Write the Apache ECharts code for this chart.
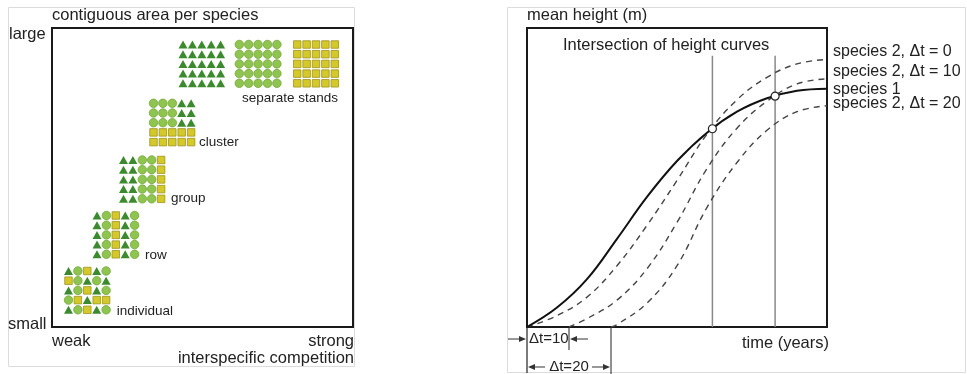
<!DOCTYPE html>
<html>
<head>
<meta charset="utf-8">
<script src="https://cdn.jsdelivr.net/npm/echarts@6/dist/echarts.min.js"></script>
<style>
html, body { margin: 0; padding: 0; background: #fff; }
#chartDom { width: 967px; height: 374px; }
</style>
</head>
<body>
<div id="chartDom"></div>
<script>
// left panel: mixing patterns, T = triangle, C = circle, S = square
const patIndividual = ['TCSTC', 'SCTCT', 'TCSTC', 'CSTSS', 'TCSTC'];
const patRow = ['TCSTC', 'TCSTC', 'TCSTC', 'TCSTC', 'TCSTC'];
const patGroup = ['TTCCS', 'TTCCS', 'TTCCS', 'TTCCS', 'TTCCS'];
const patCluster = ['CCCTT', 'CCCTT', 'CCCTT', 'SSSSS', 'SSSSS'];
const patStandT = ['TTTTT', 'TTTTT', 'TTTTT', 'TTTTT', 'TTTTT'];
const patStandC = ['CCCCC', 'CCCCC', 'CCCCC', 'CCCCC', 'CCCCC'];
const patStandS = ['SSSSS', 'SSSSS', 'SSSSS', 'SSSSS', 'SSSSS'];
const standNames = ['individual', 'row', 'group', 'cluster', 'separate stands'];

// right panel: mean height over time
const tSp1 = [0, 10, 20, 30, 40, 50, 60, 70, 80, 90, 100];
const hSp1 = [0, 6.5, 16, 29.5, 43.5, 55.5, 65, 72, 76.5, 79, 79.7];
const tDt0 = [0, 10, 20, 30, 40, 50, 60, 70, 80, 90, 100];
const hDt0 = [0, 3.8, 10, 20.5, 34, 49, 64.5, 76, 83.5, 88, 89.5];
const tDt10 = [14, 20, 30, 40, 50, 60, 70, 80, 90, 100];
const hDt10 = [0, 2.8, 9, 19.5, 35, 53, 66.5, 75.5, 81.3, 83];
const tDt20 = [28, 30, 40, 50, 60, 70, 80, 90, 100];
const hDt20 = [0, 0.8, 8, 20.5, 40, 55, 65.8, 72, 74];
const crossT = [61.8, 82.7];
const crossH = [66.3, 77.2];
const crossTop = 90.7;
const shiftT = [14, 28];
const curveLabels = ['species 2, Δt = 0', 'species 2, Δt = 10', 'species 1', 'species 2, Δt = 20'];

const FONT = '"Liberation Sans", Arial, sans-serif';
const TXT = '#222';

// where each 5x5 block sits inside the left box (px from box top-left)
const blocks = [
  { pat: patIndividual, x: 16.5, y: 243 },
  { pat: patRow, x: 45, y: 187.5 },
  { pat: patGroup, x: 71.5, y: 132 },
  { pat: patCluster, x: 101.5, y: 75.3 },
  { pat: patStandT, x: 131, y: 16.5 },
  { pat: patStandC, x: 187.3, y: 16.5 },
  { pat: patStandS, x: 245.2, y: 16.5 }
];
const standLabelPos = [[64.7, 283], [93, 227], [119, 170], [147, 114], [190, 70]];
const STEPX = 9.4, STEPY = 9.7;

const pts = { T: [], C: [], S: [] };
blocks.forEach(b => {
  b.pat.forEach((row, r) => {
    row.split('').forEach((ch, c) => {
      pts[ch].push([b.x + c * STEPX, b.y + r * STEPY]);
    });
  });
});

const zip = (a, b) => a.map((v, i) => [v, b[i]]);
const hideAxis = { show: true, axisLine: { show: false }, axisTick: { show: false }, axisLabel: { show: false }, splitLine: { show: false } };

const chart = echarts.init(document.getElementById('chartDom'));

const dashStyle = { color: '#444', width: 1.4, type: [6, 5] };
const curve = (name, data, style) => ({
  name: name, type: 'line', xAxisIndex: 1, yAxisIndex: 1, data: data,
  smooth: 0.4, showSymbol: false, symbol: 'none',
  lineStyle: style, z: 3
});

chart.setOption({
  animation: false,
  grid: [
    { left: 52, top: 28, width: 301, height: 299, show: true, borderColor: '#1a1a1a', borderWidth: 2, containLabel: false, outerBoundsMode: 'none' },
    { left: 527, top: 28, width: 300, height: 299, show: true, borderColor: '#1a1a1a', borderWidth: 2, containLabel: false, outerBoundsMode: 'none' }
  ],
  xAxis: [
    Object.assign({ type: 'value', gridIndex: 0, min: 0, max: 301 }, hideAxis),
    Object.assign({ type: 'value', gridIndex: 1, min: 0, max: 100 }, hideAxis)
  ],
  yAxis: [
    Object.assign({ type: 'value', gridIndex: 0, min: 0, max: 299, inverse: true }, hideAxis),
    Object.assign({ type: 'value', gridIndex: 1, min: 0, max: 100 }, hideAxis)
  ],
  series: [
    { type: 'scatter', xAxisIndex: 0, yAxisIndex: 0, data: pts.T, symbol: 'triangle', symbolSize: [9, 8],
      itemStyle: { color: '#3c8a2e', opacity: 1 } },
    { type: 'scatter', xAxisIndex: 0, yAxisIndex: 0, data: pts.C, symbol: 'circle', symbolSize: 8.5,
      itemStyle: { color: '#8fc44f', borderColor: '#72a83c', borderWidth: 0.8, opacity: 1 } },
    { type: 'scatter', xAxisIndex: 0, yAxisIndex: 0, data: pts.S, symbol: 'rect', symbolSize: 7.5,
      itemStyle: { color: '#d5c92a', borderColor: '#9c931e', borderWidth: 0.8, opacity: 1 } },
    curve(curveLabels[1], zip(tDt10, hDt10), dashStyle),
    curve(curveLabels[3], zip(tDt20, hDt20), dashStyle),
    curve(curveLabels[0], zip(tDt0, hDt0), dashStyle),
    curve(curveLabels[2], zip(tSp1, hSp1), { color: '#111', width: 2 }),
    { type: 'line', xAxisIndex: 1, yAxisIndex: 1, data: [[crossT[0], 0], [crossT[0], crossTop]], symbol: 'none',
      lineStyle: { color: '#888', width: 1.5 }, z: 2 },
    { type: 'line', xAxisIndex: 1, yAxisIndex: 1, data: [[crossT[1], 0], [crossT[1], crossTop]], symbol: 'none',
      lineStyle: { color: '#888', width: 1.5 }, z: 2 },
    { type: 'scatter', xAxisIndex: 1, yAxisIndex: 1, data: zip(crossT, crossH), symbol: 'circle', symbolSize: 8,
      itemStyle: { color: '#fff', borderColor: '#222', borderWidth: 1.2, opacity: 1 }, z: 5 }
  ]
});

// annotations
const P = (g, v) => chart.convertToPixel({ gridIndex: g }, v);
const txt = (s, x, y, size, align) => ({
  type: 'text', x: x, y: y, silent: true,
  style: { text: s, fill: TXT, font: size + 'px ' + FONT, textAlign: align || 'left', textVerticalAlign: 'middle' }
});
const seg = (x1, y1, x2, y2, color, w) => ({
  type: 'line', silent: true, shape: { x1: x1, y1: y1, x2: x2, y2: y2 },
  style: { stroke: color || '#333', lineWidth: w || 1 }
});
const arrow = (x1, y, x2) => {
  const d = x2 > x1 ? 1 : -1;
  return [
    seg(x1, y, x2 - d * 5, y, '#333', 1),
    { type: 'polygon', silent: true, shape: { points: [[x2, y], [x2 - d * 7, y - 3], [x2 - d * 7, y + 3]] }, style: { fill: '#333' } }
  ];
};

const g = [];
// panel frames
g.push({ type: 'rect', silent: true, shape: { x: 8.5, y: 7.5, width: 346, height: 359 }, style: { fill: 'none', stroke: '#dcdcdc', lineWidth: 1 } });
g.push({ type: 'rect', silent: true, shape: { x: 507.5, y: 7.5, width: 458, height: 365 }, style: { fill: 'none', stroke: '#dcdcdc', lineWidth: 1 } });

// left panel texts
g.push(txt('contiguous area per species', 52, 15, 16.5));
g.push(txt('large', 9, 34, 16.5));
g.push(txt('small', 8, 324, 16.5));
g.push(txt('weak', 52, 341, 16.5));
g.push(txt('strong', 354, 341, 16.5, 'right'));
g.push(txt('interspecific competition', 354, 358, 16.5, 'right'));
standNames.forEach((s, i) => {
  const p = P(0, standLabelPos[i]);
  g.push(txt(s, p[0], p[1], 13.5));
});

// right panel texts
g.push(txt('mean height (m)', 527, 15, 16.5));
g.push(txt('Intersection of height curves', 563, 45, 16.5));
g.push(txt('time (years)', 829, 343, 16.5, 'right'));
[52, 72, 90, 104].forEach((y, i) => g.push(txt(curveLabels[i], 833, y, 16)));

// Δt markers below the time axis
const o = P(1, [0, 0]);
const a10 = P(1, [shiftT[0], 0]);
const a20 = P(1, [shiftT[1], 0]);
g.push(seg(o[0], o[1], o[0], 373, '#222', 1.2));
g.push(seg(a10[0], a10[1], a10[0], 350, '#222', 1));
g.push(seg(a20[0], a20[1], a20[0], 374, '#222', 1));
g.push(...arrow(508, 339, o[0] - 1));
g.push(...arrow(a10[0] + 19, 339, a10[0] + 1));
g.push(txt('Δt=10', o[0] + 2, 339, 15));
g.push(...arrow(o[0] + 18, 367, o[0] + 1));
g.push(...arrow(a20[0] - 19, 367, a20[0] - 1));
g.push(txt('Δt=20', (o[0] + a20[0]) / 2, 367, 15, 'center'));

chart.setOption({ graphic: g });
</script>
</body>
</html>
